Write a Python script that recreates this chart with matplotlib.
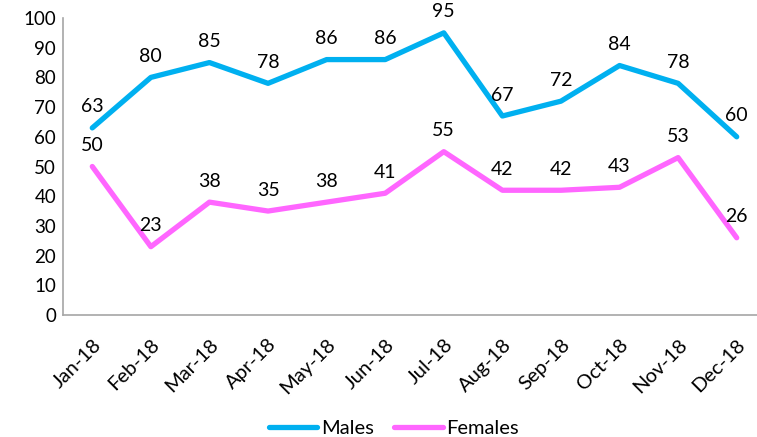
import matplotlib
matplotlib.use("Agg")
import matplotlib.pyplot as plt

plt.rcParams['font.family'] = ['Lato', 'DejaVu Sans']

months = ['Jan-18', 'Feb-18', 'Mar-18', 'Apr-18', 'May-18', 'Jun-18',
          'Jul-18', 'Aug-18', 'Sep-18', 'Oct-18', 'Nov-18', 'Dec-18']
males = [63, 80, 85, 78, 86, 86, 95, 67, 72, 84, 78, 60]
females = [50, 23, 38, 35, 38, 41, 55, 42, 42, 43, 53, 26]

W, H = 757, 437
fig = plt.figure(figsize=(W / 100, H / 100), dpi=100)
# axes extends past the right edge like the original crop
left, right, top, bottom = 63, 766, 18, 315
ax = fig.add_axes([left / W, (H - bottom) / H, (right - left) / W, (bottom - top) / H])

x = range(len(months))
ax.plot(x, males, color='#00B0F0', lw=3.8, label='Males', solid_capstyle='round')
ax.plot(x, females, color='#FF66FF', lw=3.8, label='Females', solid_capstyle='round')

for series in (males, females):
    for i, v in enumerate(series):
        ax.annotate(str(v), (i, v), xytext=(0, 9), textcoords='offset points',
                    ha='center', va='bottom', fontsize=14)

ax.set_xlim(-0.5, 11.5)
ax.set_ylim(0, 100)
ax.set_yticks(range(0, 101, 10))
ax.set_xticks(list(x))
ax.set_xticklabels(months, rotation=45, ha='right', rotation_mode='anchor')
ax.tick_params(axis='y', length=0, labelsize=13.5, pad=5)
ax.tick_params(axis='x', length=0, labelsize=14.5, pad=15)

for s in ['top', 'right']:
    ax.spines[s].set_visible(False)
for s in ['left', 'bottom']:
    ax.spines[s].set_color('#A6A6A6')
    ax.spines[s].set_linewidth(1.2)

fig.legend(loc='center', bbox_to_anchor=(394 / W, (H - 428) / H), ncol=2,
           frameon=False, fontsize=14.5, handlelength=2.4, columnspacing=1.0,
           handletextpad=0.2)

fig.savefig('out.png', dpi=100)
